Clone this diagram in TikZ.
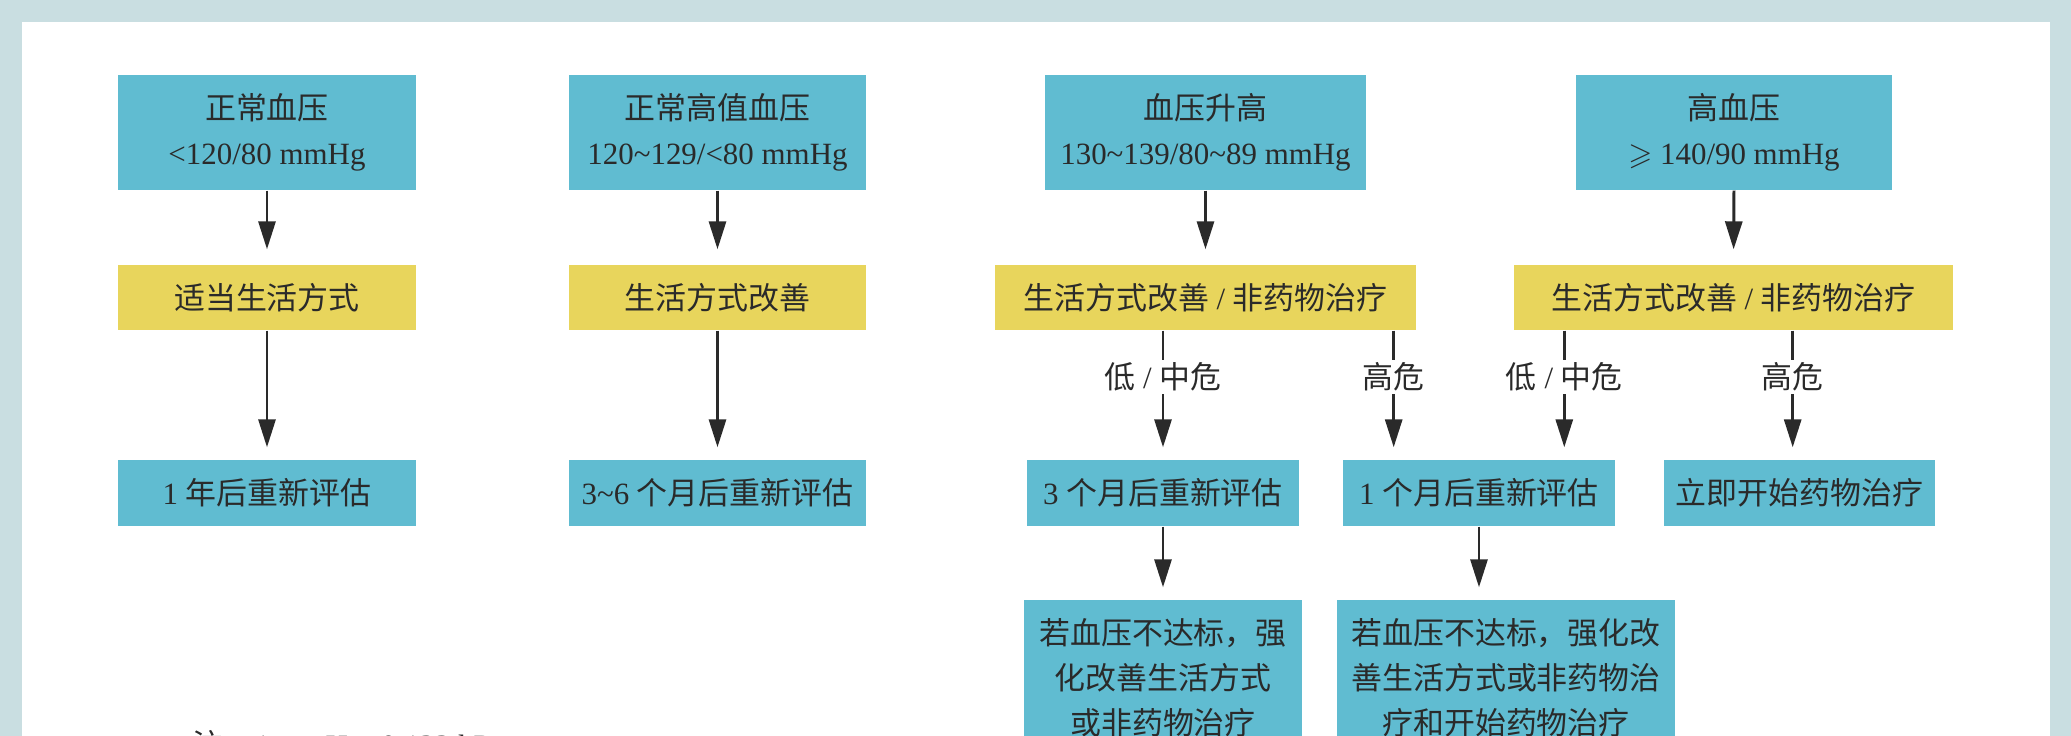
\documentclass[tikz,border=0pt]{standalone}
\usepackage{amsmath,amssymb}
\usepackage{fontspec}
\setmainfont{Liberation Serif}
\newfontfamily\cjk{Noto Sans CJK SC}
\usepackage{tikz}
\usetikzlibrary{arrows.meta,calc}
\usepackage{xcolor}
\definecolor{myblue}{RGB}{96,188,209}
\definecolor{myyellow}{RGB}{232,213,92}
\definecolor{mybg}{RGB}{201,222,225}
\definecolor{myink}{RGB}{42,42,42}
\newcommand{\zh}[1]{{\cjk #1}}
\newcommand{\boxfont}{\fontsize{8.8}{12.8}\selectfont}

\begin{document}
\begin{tikzpicture}[
    bluebox/.style={fill=myblue,inner sep=0pt,align=center,text=myink,font=\boxfont},
    yellowbox/.style={fill=myyellow,inner sep=0pt,align=center,text=myink,font=\boxfont,minimum height=0.65cm},
    arr/.style={draw=myink,line width=0.85pt,-{Triangle[width=0.17cm,length=0.28cm]}},
    risk/.style={fill=white,inner sep=0.03cm,text=myink,font=\boxfont}]
        \useasboundingbox (0,0) rectangle (20.71,-7.36);
        \fill[mybg] (0,0) rectangle (20.71,-7.36);
        \fill[white] (0.22,-0.22) rectangle (20.50,-7.36);
        \node[bluebox,minimum width=2.98cm,minimum height=1.15cm] (n1) at (2.67,-1.325) {\zh{正常血压}\\<120/80 mmHg};
        \node[bluebox,minimum width=2.97cm,minimum height=1.15cm] (n2) at (7.175,-1.325) {\zh{正常高值血压}\\120\textasciitilde 129/<80 mmHg};
        \node[bluebox,minimum width=3.21cm,minimum height=1.15cm] (n3) at (12.055,-1.325) {\zh{血压升高}\\130\textasciitilde 139/80\textasciitilde 89 mmHg};
        \node[bluebox,minimum width=3.16cm,minimum height=1.15cm] (n4) at (17.34,-1.325) {\zh{高血压}\\$\geqslant$ 140/90 mmHg};
        \node[yellowbox,minimum width=2.98cm] (y1) at (2.67,-2.975) {\zh{适当生活方式}};
        \node[yellowbox,minimum width=2.97cm] (y2) at (7.175,-2.975) {\zh{生活方式改善}};
        \node[yellowbox,minimum width=4.21cm] (y3) at (12.055,-2.975) {\zh{生活方式改善} / \zh{非药物治疗}};
        \node[yellowbox,minimum width=4.39cm] (y4) at (17.335,-2.975) {\zh{生活方式改善} / \zh{非药物治疗}};
        \node[bluebox,minimum width=2.98cm,minimum height=0.66cm] (r1) at (2.67,-4.93) {1 \zh{年后重新评估}};
        \node[bluebox,minimum width=2.97cm,minimum height=0.66cm] (r2) at (7.175,-4.93) {3\textasciitilde 6 \zh{个月后重新评估}};
        \node[bluebox,minimum width=2.72cm,minimum height=0.66cm] (r3) at (11.63,-4.93) {3 \zh{个月后重新评估}};
        \node[bluebox,minimum width=2.72cm,minimum height=0.66cm] (r4) at (14.79,-4.93) {1 \zh{个月后重新评估}};
        \node[bluebox,minimum width=2.71cm,minimum height=0.66cm] (r5) at (17.995,-4.93) {\zh{立即开始药物治疗}};
        \node[bluebox,minimum width=2.78cm,minimum height=1.56cm] (b1) at (11.63,-6.78) {\zh{若血压不达标，强}\\\zh{化改善生活方式}\\\zh{或非药物治疗}};
        \node[bluebox,minimum width=3.38cm,minimum height=1.56cm] (b2) at (15.06,-6.78) {\zh{若血压不达标，强化改}\\\zh{善生活方式或非药物治}\\\zh{疗和开始药物治疗}};
        \node[anchor=base west,text=myink,font=\boxfont] (note) at (1.80,-7.56) {\zh{注：}1 mmHg=0.133 kPa};
        \foreach \c in {1,2,3,4}{\draw[arr,shorten >=0.15cm] (n\c.south) -- (y\c.north);}
        \foreach \c in {1,2}{\draw[arr,shorten >=0.12cm] (y\c.south) -- (r\c.north);}
        \coordinate (hi1) at ($(y3.south east)+(-0.23,0)$);
        \coordinate (lo2) at ($(y4.south west)+(0.51,0)$);
        \coordinate (hi2) at ($(y4.south east)+(-1.61,0)$);
        \draw[arr,shorten >=0.12cm] (y3.south -| r3.north) -- node[risk,pos=0.36] {\zh{低} / \zh{中危}} (r3.north);
        \draw[arr,shorten >=0.12cm] (hi1) -- node[risk,pos=0.36] {\zh{高危}} (hi1 |- r4.north);
        \draw[arr,shorten >=0.12cm] (lo2) -- node[risk,pos=0.36] {\zh{低} / \zh{中危}} (lo2 |- r4.north);
        \draw[arr,shorten >=0.12cm] (hi2) -- node[risk,pos=0.36] {\zh{高危}} (hi2 |- r5.north);
        \draw[arr,shorten >=0.12cm] (r3.south) -- (b1.north);
        \draw[arr,shorten >=0.12cm] (r4.south) -- (r4.south |- b2.north);
      \end{tikzpicture}
\end{document}
